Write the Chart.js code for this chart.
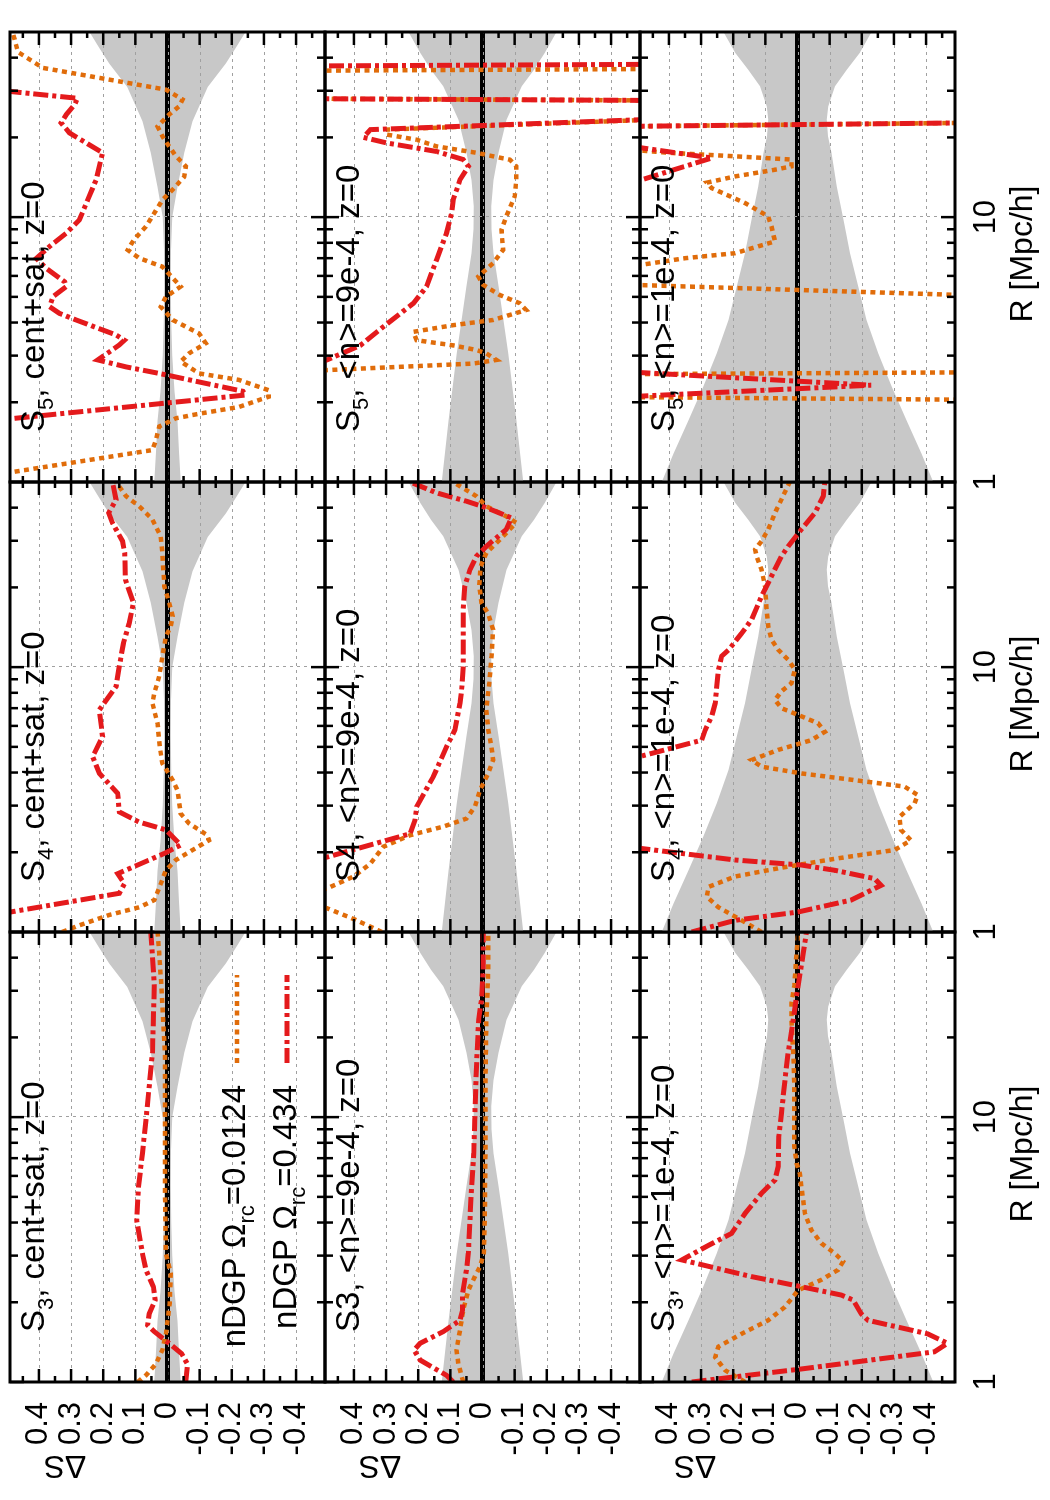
<!DOCTYPE html>
<html>
<head>
<meta charset="utf-8">
<title>Delta S, nDGP</title>
<script src="https://cdn.jsdelivr.net/npm/chart.js@4.4.1/dist/chart.umd.min.js"></script>
<style>
  html, body { margin: 0; padding: 0; background: #fff; }
  body { width: 1050px; height: 1500px; overflow: hidden; position: relative; }
  /* the figure is laid out landscape, then turned a quarter turn */
  #fig { position: absolute; left: 0; top: 0; width: 1500px; height: 1050px;
         transform-origin: 0 0; transform: translate(0, 1500px) rotate(-90deg); }
  #fig canvas { position: absolute; }
</style>
</head>
<body>
<div id="fig"></div>
<script>
const FONT = '"Liberation Sans", Arial, Helvetica, sans-serif';
const RED = '#e41a1c';
const ORANGE = '#e06c0a';
const BAND = '#c8c8c8';

// axes
const rRange = [1, 50];
const dsRange = [-0.49, 0.49];
const rTicks = [1, 10];
const rMinorTicks = [2, 3, 4, 5, 6, 7, 8, 9, 20, 30, 40];
const rGrid = [10];
const dsTicks = [0.4, 0.3, 0.2, 0.1, 0, -0.1, -0.2, -0.3, -0.4];
const dsTickLabels = ['0.4', '0.3', '0.2', '0.1', '0', '-0.1', '-0.2', '-0.3', '-0.4'];
const dsMinorTicks = [0.45, 0.35, 0.25, 0.15, 0.05, -0.05, -0.15, -0.25, -0.35, -0.45];

const legendLabels = ['nDGP Ω_{rc}=0.0124', 'nDGP Ω_{rc}=0.434'];
const xTitle = 'R [Mpc/h]';
const yTitle = 'ΔS';

// error bands, half width [R, dS]
const bandCentSat = [[1,0.041],[1.3,0.036],[1.7,0.031],[2.2,0.022],[3,0.015],[4,0.012],[5.5,0.010],[7.5,0.011],[10,0.015],[13,0.031],[17.5,0.052],[23,0.078],[31,0.125],[38,0.181],[44,0.215],[50,0.243]];
const band9e4 = [[1,0.127],[1.7,0.106],[3.06,0.08],[5.5,0.05],[7.3,0.034],[9,0.028],[11,0.027],[13.8,0.034],[17.5,0.05],[23.3,0.075],[31.2,0.122],[36,0.16],[41.7,0.194],[50,0.23]];
const band1e4 = [[1,0.422],[1.28,0.386],[1.71,0.339],[2.29,0.293],[3.06,0.251],[4.09,0.215],[5.47,0.189],[7.31,0.163],[9.77,0.143],[13.06,0.122],[17.5,0.106],[20.2,0.095],[23.35,0.091],[26.2,0.096],[31.2,0.117],[36,0.153],[41.7,0.194],[50,0.23]];

// cent+sat
const s3csOrange = [[1,0.093],[1.06,0.067],[1.17,0.036],[1.32,0.016],[1.52,0.005],[1.98,-0.007],[2.57,-0.010],[3.06,0.005],[5.47,0.008],[17.5,0.008],[31.2,0.019],[41.7,0.026],[50,0.031]];
const s3csRed = [[1,-0.057],[1.17,-0.062],[1.28,-0.044],[1.40,-0.005],[1.55,0.041],[1.64,0.062],[1.81,0.057],[2.04,0.038],[2.29,0.044],[2.65,0.067],[3.06,0.078],[4.09,0.096],[5.47,0.090],[7.31,0.078],[9.77,0.067],[13.06,0.057],[17.5,0.047],[31.2,0.041],[50,0.052]];
const s4csOrange = [[1,0.328],[1.06,0.274],[1.16,0.181],[1.24,0.088],[1.32,0.041],[1.52,0.021],[1.71,0.005],[1.87,-0.026],[2.04,-0.078],[2.22,-0.129],[2.32,-0.124],[2.57,-0.067],[2.80,-0.041],[3.43,-0.031],[3.75,-0.016],[4.33,0.016],[5.0,0.024],[6.14,0.031],[7.31,0.047],[7.98,0.041],[9.22,0.026],[10.97,0.016],[13.06,0.005],[14.25,-0.010],[15.55,-0.016],[17.5,-0.005],[20.2,0.010],[27.0,0.016],[31.2,0.021],[36.1,0.047],[40.5,0.088],[44.2,0.129],[50,0.160]];
const s4csRed = [[1,0.85],[1.40,0.150],[1.52,0.134],[1.66,0.155],[1.98,0.010],[2.13,-0.041],[2.43,0.005],[2.60,0.088],[2.84,0.150],[3.34,0.155],[3.97,0.212],[4.59,0.233],[5.47,0.202],[6.90,0.212],[8.45,0.160],[10.06,0.150],[12.32,0.137],[14.67,0.119],[17.5,0.106],[21.4,0.131],[27.0,0.133],[29.9,0.140],[35.0,0.171],[38.2,0.183],[42.9,0.160],[50,0.171]];
const s5csOrange = [[1,0.68],[1.32,0.047],[1.44,0.036],[1.62,0.026],[1.74,-0.026],[1.81,-0.098],[1.92,-0.222],[2.10,-0.315],[2.22,-0.315],[2.43,-0.222],[2.57,-0.098],[2.85,-0.041],[3.06,-0.067],[3.34,-0.119],[3.64,-0.098],[4.09,-0.016],[4.59,0.021],[5.0,0.005],[5.47,-0.041],[6.5,0.016],[7.0,0.088],[7.52,0.124],[8.2,0.105],[9.22,0.067],[11.6,0.016],[12.7,-0.016],[14.2,-0.052],[15.55,-0.057],[17.0,-0.026],[18.5,-0.005],[20.2,0.016],[22.0,0.031],[24.4,-0.005],[26.2,-0.036],[27.8,-0.047],[30.3,0.005],[36.6,0.388],[42,0.465],[49,0.48],[50,0.5]];
const s5csRed = [[1,1.0],[1.5,1.0],[2.13,-0.243],[2.2,-0.235],[2.57,0.026],[2.72,0.129],[2.89,0.217],[3.29,0.150],[3.43,0.134],[3.59,0.160],[4.09,0.284],[4.33,0.336],[4.59,0.367],[5.0,0.357],[5.47,0.315],[5.7,0.320],[6.4,0.377],[6.99,0.408],[7.75,0.367],[8.7,0.315],[9.77,0.274],[11.63,0.248],[13.84,0.222],[17.5,0.202],[19.06,0.253],[20.8,0.305],[22.7,0.331],[24.4,0.315],[26.6,0.289],[28.1,0.28],[31.2,0.65],[50,0.8]];

// <n>=9e-4
const s3n9Orange = [[1,0.060],[1.17,0.075],[1.32,0.081],[1.57,0.070],[1.87,0.060],[2.22,0.044],[2.57,0.019],[2.72,0.008],[3.06,-0.004],[4.09,-0.007],[7.31,-0.009],[13.06,-0.009],[23.35,-0.012],[36.1,-0.018],[50,-0.018]];
const s3n9Red = [[1,0.091],[1.06,0.112],[1.21,0.194],[1.32,0.213],[1.40,0.194],[1.55,0.122],[1.71,0.070],[1.87,0.062],[2.16,0.062],[2.65,0.050],[3.06,0.044],[4.09,0.039],[5.47,0.034],[7.31,0.027],[9.77,0.024],[13.06,0.021],[17.5,0.017],[23.35,0.012],[27.8,0.003],[36,-0.002],[50,-0.002]];
const s4n9Orange = [[1,0.313],[1.12,0.401],[1.23,0.484],[1.32,0.587],[1.46,0.484],[1.62,0.401],[1.81,0.349],[2.10,0.308],[2.32,0.225],[2.50,0.122],[2.68,0.050],[2.97,0.024],[3.43,0.008],[3.97,-0.018],[4.46,-0.033],[5.0,-0.028],[5.79,-0.018],[6.9,-0.012],[8.7,-0.021],[10.97,-0.028],[13.84,-0.033],[15.9,-0.018],[17.5,0.003],[20.2,0.010],[24.0,0.006],[27.0,-0.012],[30.3,-0.054],[35.1,-0.105],[37.1,-0.074],[40.5,-0.012],[44.2,0.019],[48.2,0.070],[50,0.091]];
const s4n9Red = [[1,1.0],[1.71,0.63],[2.35,0.225],[2.65,0.210],[2.97,0.205],[3.86,0.153],[5.0,0.112],[5.79,0.086],[7.31,0.070],[8.21,0.065],[10.06,0.060],[13.06,0.060],[16.5,0.060],[20.2,0.055],[23.35,0.039],[26.2,0.019],[28.6,-0.012],[33.1,-0.074],[36.6,-0.090],[40.0,-0.012],[42.3,0.050],[45.5,0.143],[50,0.225]];
const s5n9Orange = [[1,1.4],[2.36,1.4],[2.80,0.029],[2.89,-0.043],[3.06,-0.012],[3.15,0.019],[3.28,0.091],[3.43,0.205],[3.69,0.215],[3.91,0.091],[4.09,-0.033],[4.46,-0.136],[4.73,-0.116],[5.08,-0.054],[5.55,-0.002],[5.97,0.013],[6.70,-0.033],[7.52,-0.064],[8.96,-0.059],[10.06,-0.074],[11.95,-0.100],[13.84,-0.105],[15.55,-0.105],[16.48,-0.085],[16.97,-0.033],[17.5,0.019],[18.5,0.143],[19.6,0.205],[20.5,0.298],[21.4,0.30],[24.0,-0.80],[27.0,-2],[28.6,2],[35.0,2],[37.0,-2],[50,-2]];
const s5n9Red = [[1,0.8],[2.5,0.65],[2.89,0.484],[3.28,0.380],[3.86,0.308],[4.73,0.215],[5.47,0.174],[6.9,0.143],[8.7,0.112],[10.35,0.096],[11.63,0.091],[13.84,0.070],[15.55,0.044],[16.5,0.060],[17.7,0.143],[19.06,0.298],[20.0,0.370],[21.4,0.349],[24.0,-0.77],[27.0,-2],[28.6,2],[36.5,2],[38.5,-2],[50,-2]];

// <n>=1e-4
const s3n1Orange = [[1,0.163],[1.107,0.225],[1.24,0.256],[1.36,0.246],[1.52,0.174],[1.71,0.091],[1.92,0.039],[2.22,-0.002],[2.43,-0.074],[2.65,-0.126],[2.85,-0.142],[3.06,-0.116],[3.34,-0.074],[3.75,-0.043],[4.33,-0.023],[5.47,-0.012],[6.14,-0.007],[6.70,0.003],[7.75,0.010],[13.06,0.010],[17.5,0.013],[23.35,0.019],[27.0,0.019],[31.2,0.010],[41.7,0.003],[50,-0.002]];
const s3n1Red = [[1,0.329],[1.075,0.112],[1.12,-0.012],[1.30,-0.426],[1.40,-0.467],[1.52,-0.405],[1.71,-0.219],[1.81,-0.198],[2.04,-0.173],[2.13,-0.136],[2.29,-0.012],[2.50,0.143],[2.89,0.360],[3.28,0.277],[3.64,0.205],[4.33,0.163],[5.16,0.112],[5.79,0.070],[6.51,0.060],[8.45,0.058],[10.35,0.050],[13.84,0.039],[17.5,0.029],[23.35,0.013],[28.6,0.003],[36.1,-0.010],[41.7,-0.018],[50,-0.028]];
const s4n1Orange = [[1,0.112],[1.107,0.174],[1.24,0.246],[1.36,0.282],[1.48,0.277],[1.62,0.194],[1.74,0.060],[1.89,-0.116],[2.04,-0.302],[2.22,-0.353],[2.43,-0.322],[2.72,-0.317],[3.06,-0.364],[3.29,-0.374],[3.54,-0.333],[3.69,-0.219],[3.97,-0.012],[4.21,0.112],[4.46,0.143],[4.87,0.060],[5.3,-0.043],[5.7,-0.085],[6.14,-0.064],[6.6,-0.002],[7.0,0.050],[7.52,0.070],[8.1,0.050],[8.7,0.019],[9.77,0.008],[10.66,0.029],[11.63,0.060],[12.69,0.081],[14.25,0.091],[16.5,0.096],[20.2,0.101],[23.35,0.112],[26.2,0.127],[27.8,0.132],[29.9,0.112],[33.1,0.091],[38.2,0.070],[43.0,0.050],[50,0.024]];
const s4n1Red = [[1,0.329],[1.107,0.194],[1.19,-0.002],[1.32,-0.167],[1.50,-0.260],[1.59,-0.240],[1.71,-0.116],[1.79,-0.012],[1.87,0.194],[2.15,0.6],[3.0,0.8],[4.21,0.61],[5.3,0.298],[5.79,0.287],[6.51,0.267],[7.31,0.256],[9.77,0.246],[11.0,0.236],[11.6,0.215],[13.4,0.174],[15.1,0.143],[18.5,0.112],[20.8,0.091],[26.2,0.050],[28.6,0.029],[33.1,-0.012],[38.2,-0.054],[44.2,-0.080],[50,-0.085]];
const s5n1Orange = [[1,-2],[1.98,-2],[2.16,2],[2.5,2],[2.65,-2],[4.87,-1.0],[5.79,1.0],[6.14,0.66],[7.0,0.349],[7.31,0.194],[8.1,0.070],[9.22,0.081],[10.06,0.091],[11.3,0.163],[12.87,0.267],[13.5,0.282],[14.25,0.194],[15.1,0.070],[15.55,0.019],[16.5,0.019],[16.97,0.194],[17.5,0.401],[18.25,0.59],[21.4,1.5],[23.35,-1.5],[50,-1.5]];
const s5n1Red = [[1,1.2],[1.92,1.2],[2.32,-0.229],[2.8,1.0],[12.3,0.62],[16.72,0.267],[19.06,0.59],[21.4,1.5],[23.35,-1.5],[50,-1.5]];

const panels = [
  { row: 0, col: 0, label: 'S_{3}, cent+sat, z=0', red: s3csRed, orange: s3csOrange, band: bandCentSat, legend: true },
  { row: 0, col: 1, label: 'S_{4}, cent+sat, z=0', red: s4csRed, orange: s4csOrange, band: bandCentSat },
  { row: 0, col: 2, label: 'S_{5}, cent+sat, z=0', red: s5csRed, orange: s5csOrange, band: bandCentSat },
  { row: 1, col: 0, label: 'S3, <n>=9e-4, z=0', red: s3n9Red, orange: s3n9Orange, band: band9e4 },
  { row: 1, col: 1, label: 'S4, <n>=9e-4, z=0', red: s4n9Red, orange: s4n9Orange, band: band9e4 },
  { row: 1, col: 2, label: 'S_{5}, <n>=9e-4, z=0', red: s5n9Red, orange: s5n9Orange, band: band9e4 },
  { row: 2, col: 0, label: 'S_{3}, <n>=1e-4, z=0', red: s3n1Red, orange: s3n1Orange, band: band1e4 },
  { row: 2, col: 1, label: 'S_{4}, <n>=1e-4, z=0', red: s4n1Red, orange: s4n1Orange, band: band1e4 },
  { row: 2, col: 2, label: 'S_{5}, <n>=1e-4, z=0', red: s5n1Red, orange: s5n1Orange, band: band1e4 }
];

// layout of the landscape figure (before the turn)
const colLeft = [118, 568, 1018];
const rowTop = [10, 325, 640];
const panelW = 450, panelH = 315;
const marginL = 120, marginT = 10, marginR = 10, marginB = 100;

const redDash = [15, 4, 4, 4];
const orangeDash = [5, 4.5];

function toXY(arr, sign) {
  const s = sign || 1;
  return arr.map(p => ({ x: p[0], y: s * p[1] }));
}

// split 'S_{3}, ...' into normal / subscript pieces
function richParts(str) {
  const parts = [];
  const re = /_\{([^}]*)\}/g;
  let last = 0, m;
  while ((m = re.exec(str))) {
    if (m.index > last) parts.push({ t: str.slice(last, m.index), sub: false });
    parts.push({ t: m[1], sub: true });
    last = re.lastIndex;
  }
  if (last < str.length) parts.push({ t: str.slice(last), sub: false });
  return parts;
}

function drawRich(ctx, str, x, y, size, align) {
  const parts = richParts(str);
  const subSize = Math.round(size * 0.68);
  let w = 0;
  parts.forEach(p => {
    ctx.font = (p.sub ? subSize : size) + 'px ' + FONT;
    p.w = ctx.measureText(p.t).width;
    w += p.w;
  });
  let cx = align === 'right' ? x - w : x;
  ctx.textAlign = 'left';
  ctx.textBaseline = 'alphabetic';
  parts.forEach(p => {
    ctx.font = (p.sub ? subSize : size) + 'px ' + FONT;
    ctx.fillText(p.t, cx, p.sub ? y + size * 0.27 : y);
    cx += p.w;
  });
}

function line(ctx, x1, y1, x2, y2) {
  ctx.beginPath();
  ctx.moveTo(x1, y1);
  ctx.lineTo(x2, y2);
  ctx.stroke();
}

const panelDecor = {
  id: 'panelDecor',
  // dashed grid goes over the band and the zero line
  afterDatasetDraw(chart, args) {
    if (args.index !== 2) return;
    const { ctx, chartArea: a, scales: { x, y } } = chart;
    ctx.save();
    ctx.strokeStyle = '#a0a0a0';
    ctx.lineWidth = 1;
    ctx.setLineDash([3, 4]);
    dsTicks.forEach(v => {
      const py = Math.round(y.getPixelForValue(v)) + 0.5;
      line(ctx, a.left, py, a.right, py);
    });
    rGrid.forEach(v => {
      const px = Math.round(x.getPixelForValue(v)) + 0.5;
      line(ctx, px, a.top, px, a.bottom);
    });
    ctx.restore();
  },
  afterDraw(chart, args, opts) {
    const { ctx, chartArea: a, scales: { x, y } } = chart;
    ctx.save();
    ctx.setLineDash([]);
    ctx.strokeStyle = '#000';
    ctx.fillStyle = '#000';

    // inward ticks on all four sides
    ctx.lineWidth = 2.5;
    const xt = (vals, len) => vals.forEach(v => {
      const px = x.getPixelForValue(v);
      line(ctx, px, a.bottom, px, a.bottom - len);
      line(ctx, px, a.top, px, a.top + len);
    });
    const yt = (vals, len) => vals.forEach(v => {
      const py = y.getPixelForValue(v);
      line(ctx, a.left, py, a.left + len, py);
      line(ctx, a.right, py, a.right - len, py);
    });
    xt(rTicks, 14);
    xt(rMinorTicks, 8);
    yt(dsTicks, 13);
    yt(dsMinorTicks, 6);

    ctx.lineWidth = 3;
    ctx.strokeRect(a.left, a.top, a.right - a.left, a.bottom - a.top);

    // panel label
    drawRich(ctx, opts.label, a.left + 50, a.top + 34, 33, 'left');

    // key
    if (opts.legend) {
      const rows = [
        { text: legendLabels[0], color: ORANGE, width: 4.5, dash: orangeDash, base: 235, mid: 227 },
        { text: legendLabels[1], color: RED, width: 5, dash: redDash, base: 286, mid: 277 }
      ];
      rows.forEach(r => {
        ctx.fillStyle = '#000';
        drawRich(ctx, r.text, a.left + 297, a.top + r.base, 33, 'right');
        ctx.strokeStyle = r.color;
        ctx.lineWidth = r.width;
        ctx.setLineDash(r.dash);
        line(ctx, a.left + 319, a.top + r.mid, a.left + 407, a.top + r.mid);
        ctx.setLineDash([]);
      });
    }

    ctx.fillStyle = '#000';
    ctx.font = '32px ' + FONT;
    if (opts.yTitle) {
      ctx.save();
      ctx.translate(a.left - 83, a.top + 55);
      ctx.rotate(-Math.PI / 2);
      ctx.textAlign = 'center';
      ctx.textBaseline = 'middle';
      ctx.fillText(yTitle, 0, 0);
      ctx.restore();
    }
    if (opts.xTitle) {
      ctx.textAlign = 'center';
      ctx.textBaseline = 'middle';
      ctx.fillText(xTitle, (a.left + a.right) / 2 + 3, a.bottom + 68);
    }
    ctx.restore();
  }
};

const fig = document.getElementById('fig');

panels.forEach(p => {
  const canvas = document.createElement('canvas');
  const w = marginL + panelW + marginR;
  const h = marginT + panelH + marginB;
  canvas.width = w;
  canvas.height = h;
  canvas.style.width = w + 'px';
  canvas.style.height = h + 'px';
  canvas.style.left = (colLeft[p.col] - marginL) + 'px';
  canvas.style.top = (rowTop[p.row] - marginT) + 'px';
  fig.appendChild(canvas);

  new Chart(canvas, {
    type: 'line',
    data: {
      datasets: [
        { data: toXY(p.red), borderColor: RED, borderWidth: 5, borderDash: redDash, order: 0, clip: 0 },
        { data: toXY(p.orange), borderColor: ORANGE, borderWidth: 4.5, borderDash: orangeDash, order: 0, clip: 0 },
        { data: [{ x: rRange[0], y: 0 }, { x: rRange[1], y: 0 }], borderColor: '#000', borderWidth: 5, order: 1, clip: 0 },
        { data: toXY(p.band), fill: 'origin', backgroundColor: BAND, borderColor: 'rgba(0,0,0,0)', borderWidth: 0, order: 2, clip: 0 },
        { data: toXY(p.band, -1), fill: 'origin', backgroundColor: BAND, borderColor: 'rgba(0,0,0,0)', borderWidth: 0, order: 2, clip: 0 }
      ]
    },
    options: {
      responsive: false,
      animation: false,
      devicePixelRatio: 1,
      events: [],
      layout: { padding: { top: marginT, right: marginR, left: 0, bottom: 0 } },
      elements: { point: { radius: 0 }, line: { tension: 0, borderCapStyle: 'butt' } },
      plugins: {
        legend: { display: false },
        tooltip: { enabled: false },
        panelDecor: {
          label: p.label,
          legend: !!p.legend,
          yTitle: p.col === 0,
          xTitle: p.row === 2
        }
      },
      scales: {
        x: {
          type: 'logarithmic',
          position: 'bottom',
          min: rRange[0],
          max: rRange[1],
          grid: { display: false, drawTicks: false },
          border: { display: false },
          ticks: {
            display: p.row === 2,
            color: '#000',
            font: { family: FONT, size: 31 },
            padding: 13,
            maxRotation: 0,
            autoSkip: false,
            callback: v => String(v)
          },
          afterBuildTicks: s => { s.ticks = rTicks.map(v => ({ value: v })); },
          afterFit: s => { s.height = marginB; s.paddingLeft = 0; s.paddingRight = 0; }
        },
        y: {
          type: 'linear',
          position: 'left',
          min: dsRange[0],
          max: dsRange[1],
          grid: { display: false, drawTicks: false },
          border: { display: false },
          ticks: {
            display: p.col === 0,
            color: '#000',
            font: { family: FONT, size: 31 },
            padding: 20,
            autoSkip: false,
            callback: v => dsTickLabels[dsTicks.indexOf(Math.round(v * 10) / 10)]
          },
          afterBuildTicks: s => { s.ticks = dsTicks.map(v => ({ value: v })); },
          afterFit: s => { s.width = marginL; s.paddingTop = 0; s.paddingBottom = 0; }
        }
      }
    },
    plugins: [panelDecor]
  });
});
</script>
</body>
</html>
